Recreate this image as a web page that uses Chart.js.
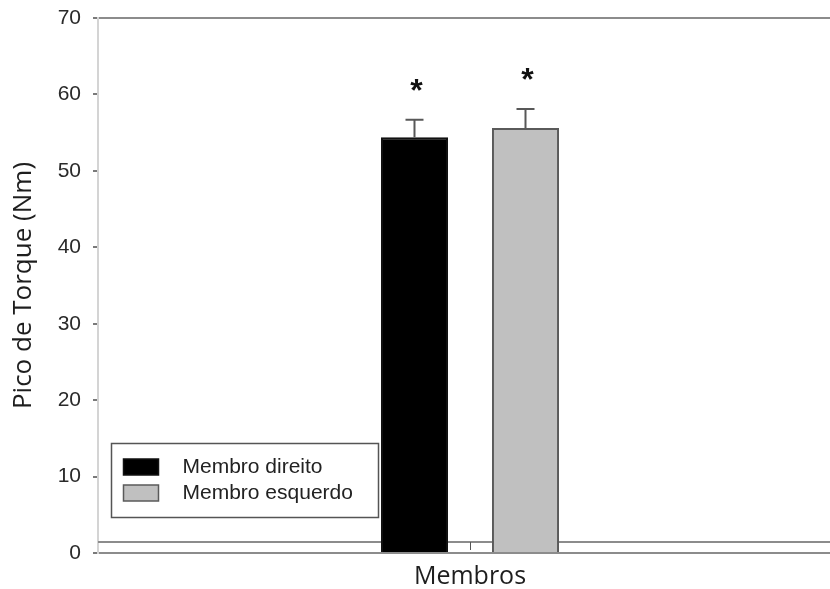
<!DOCTYPE html>
<html>
<head>
<meta charset="utf-8">
<script src="https://cdn.jsdelivr.net/npm/chart.js@4/dist/chart.umd.min.js"></script>
<style>
  html, body { margin: 0; padding: 0; background: #ffffff; overflow: hidden; }
  #wrap { width: 830px; height: 589px; overflow: hidden; position: relative; }
  canvas { display: block; }
</style>
</head>
<body>
<div id="wrap"><canvas id="c" width="842" height="589"></canvas></div>
<script>
// Peak torque per limb: mean values, upper error (SD) and significance marks
const categories = ['Membros'];
const seriesLabels = ['Membro direito', 'Membro esquerdo'];
const meanTorque = [54.4, 55.6];
const errorUpper = [2.3, 2.5];
const significance = ['*', '*'];
const yTicks = [0, 10, 20, 30, 40, 50, 60, 70];
const referenceLevel = 1.5;

const seriesFill = ['#000000', '#c0c0c0'];
const seriesEdge = ['#111111', '#5a5a5a'];

const datasets = seriesLabels.map((label, i) => ({
  label: label,
  data: [meanTorque[i]],
  backgroundColor: seriesFill[i],
  borderColor: seriesEdge[i],
  borderWidth: 2,
  borderSkipped: 'bottom',
  categoryPercentage: 0.2984,
  barPercentage: 0.604
}));

// Horizontal reference line just above the baseline, drawn beneath the bars
const referenceLine = {
  id: 'referenceLine',
  beforeDatasetsDraw(chart) {
    const { ctx, chartArea, scales: { y } } = chart;
    const py = Math.round(y.getPixelForValue(referenceLevel));
    ctx.save();
    ctx.strokeStyle = '#8c8c8c';
    ctx.lineWidth = 2;
    ctx.beginPath();
    ctx.moveTo(chartArea.left, py);
    ctx.lineTo(chartArea.right, py);
    ctx.stroke();
    ctx.restore();
  }
};

// Upper error bars, significance asterisks and the inner category tick
const barExtras = {
  id: 'barExtras',
  afterDatasetsDraw(chart) {
    const { ctx, scales: { x, y } } = chart;
    ctx.save();
    chart.data.datasets.forEach((ds, i) => {
      const el = chart.getDatasetMeta(i).data[0];
      const top = y.getPixelForValue(meanTorque[i] + errorUpper[i]);
      ctx.strokeStyle = '#585858';
      ctx.lineWidth = 2;
      ctx.beginPath();
      ctx.moveTo(el.x, el.y);
      ctx.lineTo(el.x, top);
      ctx.moveTo(el.x - 9, top);
      ctx.lineTo(el.x + 9, top);
      ctx.stroke();

      ctx.fillStyle = '#111111';
      ctx.font = 'bold 32px "Liberation Sans", Arial, sans-serif';
      ctx.textAlign = 'center';
      ctx.textBaseline = 'alphabetic';
      const m = ctx.measureText(significance[i]);
      const center = top - 35;
      const base = center + (m.actualBoundingBoxAscent - m.actualBoundingBoxDescent) / 2;
      ctx.fillText(significance[i], el.x + 2, base);
    });
    // small tick at the category position, pointing into the plot
    const cx = Math.round(x.getPixelForValue(0)) + 0.5;
    const by = y.getPixelForValue(0);
    ctx.strokeStyle = '#555555';
    ctx.lineWidth = 1;
    ctx.beginPath();
    ctx.moveTo(cx, by - 3);
    ctx.lineTo(cx, by - 11);
    ctx.stroke();
    ctx.restore();
  }
};

// Boxed legend in the lower-left of the plot
const boxLegend = {
  id: 'boxLegend',
  afterDraw(chart) {
    const { ctx, chartArea } = chart;
    const left = chartArea.left + 13.5;
    const topY = 443.5;
    ctx.save();
    ctx.fillStyle = '#ffffff';
    ctx.fillRect(left, topY, 267, 74);
    ctx.strokeStyle = '#555555';
    ctx.lineWidth = 1.5;
    ctx.strokeRect(left, topY, 267, 74);
    const rows = [467, 493];
    chart.data.datasets.forEach((ds, i) => {
      const ry = rows[i];
      ctx.fillStyle = ds.backgroundColor;
      ctx.fillRect(left + 12, ry - 8, 35, 16);
      ctx.strokeStyle = ds.borderColor;
      ctx.lineWidth = 1.5;
      ctx.strokeRect(left + 12, ry - 8, 35, 16);
      ctx.fillStyle = '#222222';
      ctx.font = '21px "Liberation Sans", Arial, sans-serif';
      ctx.textAlign = 'left';
      ctx.textBaseline = 'middle';
      ctx.fillText(ds.label, left + 71, ry);
    });
    ctx.restore();
  }
};

new Chart(document.getElementById('c'), {
  type: 'bar',
  data: { labels: categories, datasets: datasets },
  options: {
    responsive: false,
    animation: false,
    devicePixelRatio: 1,
    layout: { padding: { top: 18, left: 0, right: 0, bottom: 0 } },
    plugins: {
      legend: { display: false },
      tooltip: { enabled: false }
    },
    scales: {
      x: {
        type: 'category',
        offset: true,
        grid: { display: false },
        border: { display: false },
        ticks: { display: false },
        title: {
          display: true,
          text: 'Membros',
          color: '#1e1e1e',
          font: { family: '"Open Sans", "Noto Sans", sans-serif', size: 25, lineHeight: 1 },
          padding: { top: 0, bottom: 0 }
        },
        afterFit(s) { s.height = 36; s.paddingLeft = 0; s.paddingRight = 0; }
      },
      y: {
        min: 0,
        max: 70,
        afterBuildTicks(s) { s.ticks = yTicks.map(v => ({ value: v })); },
        ticks: {
          color: '#2a2a2a',
          padding: 12,
          font: { family: '"Liberation Sans", Arial, sans-serif', size: 21 }
        },
        grid: {
          drawTicks: true,
          tickLength: 5,
          tickWidth: 2,
          tickColor: '#7a7a7a',
          lineWidth: 2,
          color: c => (c.tick && (c.tick.value === 0 || c.tick.value === 70)) ? '#8c8c8c' : 'rgba(0,0,0,0)'
        },
        border: { display: true, color: '#d4d4d4', width: 2 },
        title: {
          display: true,
          text: 'Pico de Torque (Nm)',
          color: '#1e1e1e',
          font: { family: '"Open Sans", "Noto Sans", sans-serif', size: 26, lineHeight: 1 },
          padding: { top: 11, bottom: 0 }
        },
        afterFit(s) { s.width = 98; s.paddingTop = 0; s.paddingBottom = 0; }
      }
    }
  },
  plugins: [referenceLine, barExtras, boxLegend]
});
</script>
</body>
</html>
